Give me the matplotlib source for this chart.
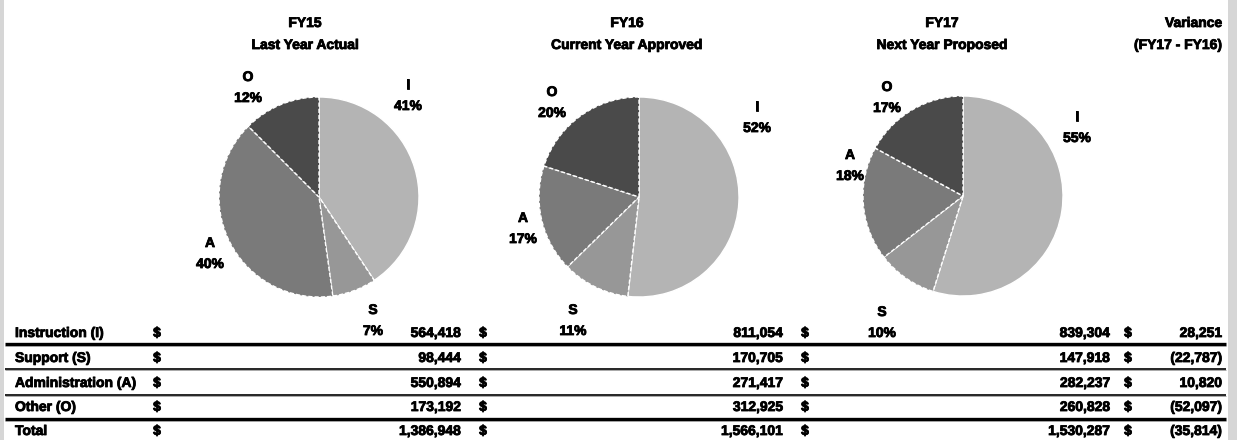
#!/usr/bin/env python3
# Budget allocation by program: three pies (FY15-FY17) over a summary table.

import matplotlib
matplotlib.use("Agg")
import matplotlib.pyplot as plt
import matplotlib.patheffects as pe
from matplotlib.patches import Rectangle


# Data
categories = ["Instruction (I)", "Support (S)", "Administration (A)", "Other (O)"]
short_names = ["I", "S", "A", "O"]
fy15 = [564418, 98444, 550894, 173192]
fy16 = [811054, 170705, 271417, 312925]
fy17 = [839304, 147918, 282237, 260828]
variance = [28251, -22787, 10820, -52097]

years = ["FY15", "FY16", "FY17"]
subtitles = ["Last Year Actual", "Current Year Approved", "Next Year Proposed"]

# Layout (pixels, figure is 1237 x 440)
W, H = 1237, 440
FONT = ["Liberation Sans Narrow", "Liberation Sans", "DejaVu Sans"]
COLORS = ["#b4b4b4", "#979797", "#7a7a7a", "#4a4a4a"]

pie_centers = [(319, 197), (639, 197), (963, 196)]
pie_radius = 101
title_x = [305, 627, 942]

# label anchor (letter line) per pie, in I, S, A, O order
label_pos = [
    [(408, 85), (373, 310), (210, 243), (248, 77)],
    [(757, 107), (573, 310), (523, 218), (552, 92)],
    [(1077, 117), (882, 312), (850, 155), (887, 87)],
]

row_y = [333, 358, 383, 407, 431]
line_y = [344, 369, 395, 419]
line_w = [2.4, 1.2, 1.2, 2.4]
dollar_x = [157, 483, 805, 1128]
value_x = [461, 783, 1110, 1222]


def fmt(v):
    return f"({abs(v):,})" if v < 0 else f"{v:,}"


def main():
    fig = plt.figure(figsize=(W / 100, H / 100), dpi=100)
    fig.patch.set_facecolor("white")

    # pies, one axes each
    for k, vals in enumerate([fy15, fy16, fy17]):
        cx, cy = pie_centers[k]
        r = pie_radius
        pax = fig.add_axes([(cx - r) / W, (H - cy - r) / H, 2 * r / W, 2 * r / H])
        wedges, _ = pax.pie(vals, colors=COLORS, startangle=90, counterclock=False,
                            radius=1,
                            wedgeprops=dict(edgecolor="white", linewidth=1.0,
                                            linestyle=(0, (3, 1.5))))
        wedges[0].set_linestyle("-")
        pax.set_xlim(-1.01, 1.01)
        pax.set_ylim(-1.01, 1.01)
        pax.set_aspect("auto")
        pax.axis("off")

    # overlay for text, lines and border bands
    ax = fig.add_axes([0, 0, 1, 1], zorder=5)
    ax.set_xlim(0, W)
    ax.set_ylim(H, 0)
    ax.axis("off")
    ax.patch.set_alpha(0)

    ax.add_patch(Rectangle((0, 0), 4, H, color="#d6d6d6", lw=0))
    ax.add_patch(Rectangle((1228, 0), W - 1228, H, color="#d6d6d6", lw=0))

    # heavy, slightly blurred look of the original text
    heavy = [pe.withStroke(linewidth=0.6, foreground="black")]
    kw = dict(fontsize=10, fontweight="bold", family=FONT, color="black",
              path_effects=heavy)

    for k in range(3):
        ax.text(title_x[k], 23, years[k], ha="center", va="center", **kw)
        ax.text(title_x[k], 45, subtitles[k], ha="center", va="center", **kw)
    ax.text(1222, 23, "Variance", ha="right", va="center", **kw)
    ax.text(1222, 45, "(FY17 - FY16)", ha="right", va="center", **kw)

    # pie labels
    for k, vals in enumerate([fy15, fy16, fy17]):
        total = sum(vals)
        for i, v in enumerate(vals):
            x, y = label_pos[k][i]
            ax.text(x, y, short_names[i], ha="center", va="center", **kw)
            ax.text(x, y + 21, f"{round(100 * v / total)}%", ha="center", va="center", **kw)

    # table
    totals = [sum(fy15), sum(fy16), sum(fy17)]
    var_total = totals[2] - totals[1]
    rows = categories + ["Total"]
    cols = [fy15 + [totals[0]], fy16 + [totals[1]], fy17 + [totals[2]],
            variance + [var_total]]

    for r, name in enumerate(rows):
        y = row_y[r]
        ax.text(15, y, name, ha="left", va="center", **kw)
        for c in range(4):
            ax.text(dollar_x[c], y, "$", ha="center", va="center", **kw)
            ax.text(value_x[c], y, fmt(cols[c][r]), ha="right", va="center", **kw)

    for y, lw in zip(line_y, line_w):
        ax.hlines(y, 5, 1226, color="black", linewidth=lw)
        ax.hlines(y + lw * 0.9, 5, 1226, color="#9a9a9a", linewidth=0.6)

    fig.savefig("out.png", dpi=100, facecolor="white")


if __name__ == "__main__":
    main()
